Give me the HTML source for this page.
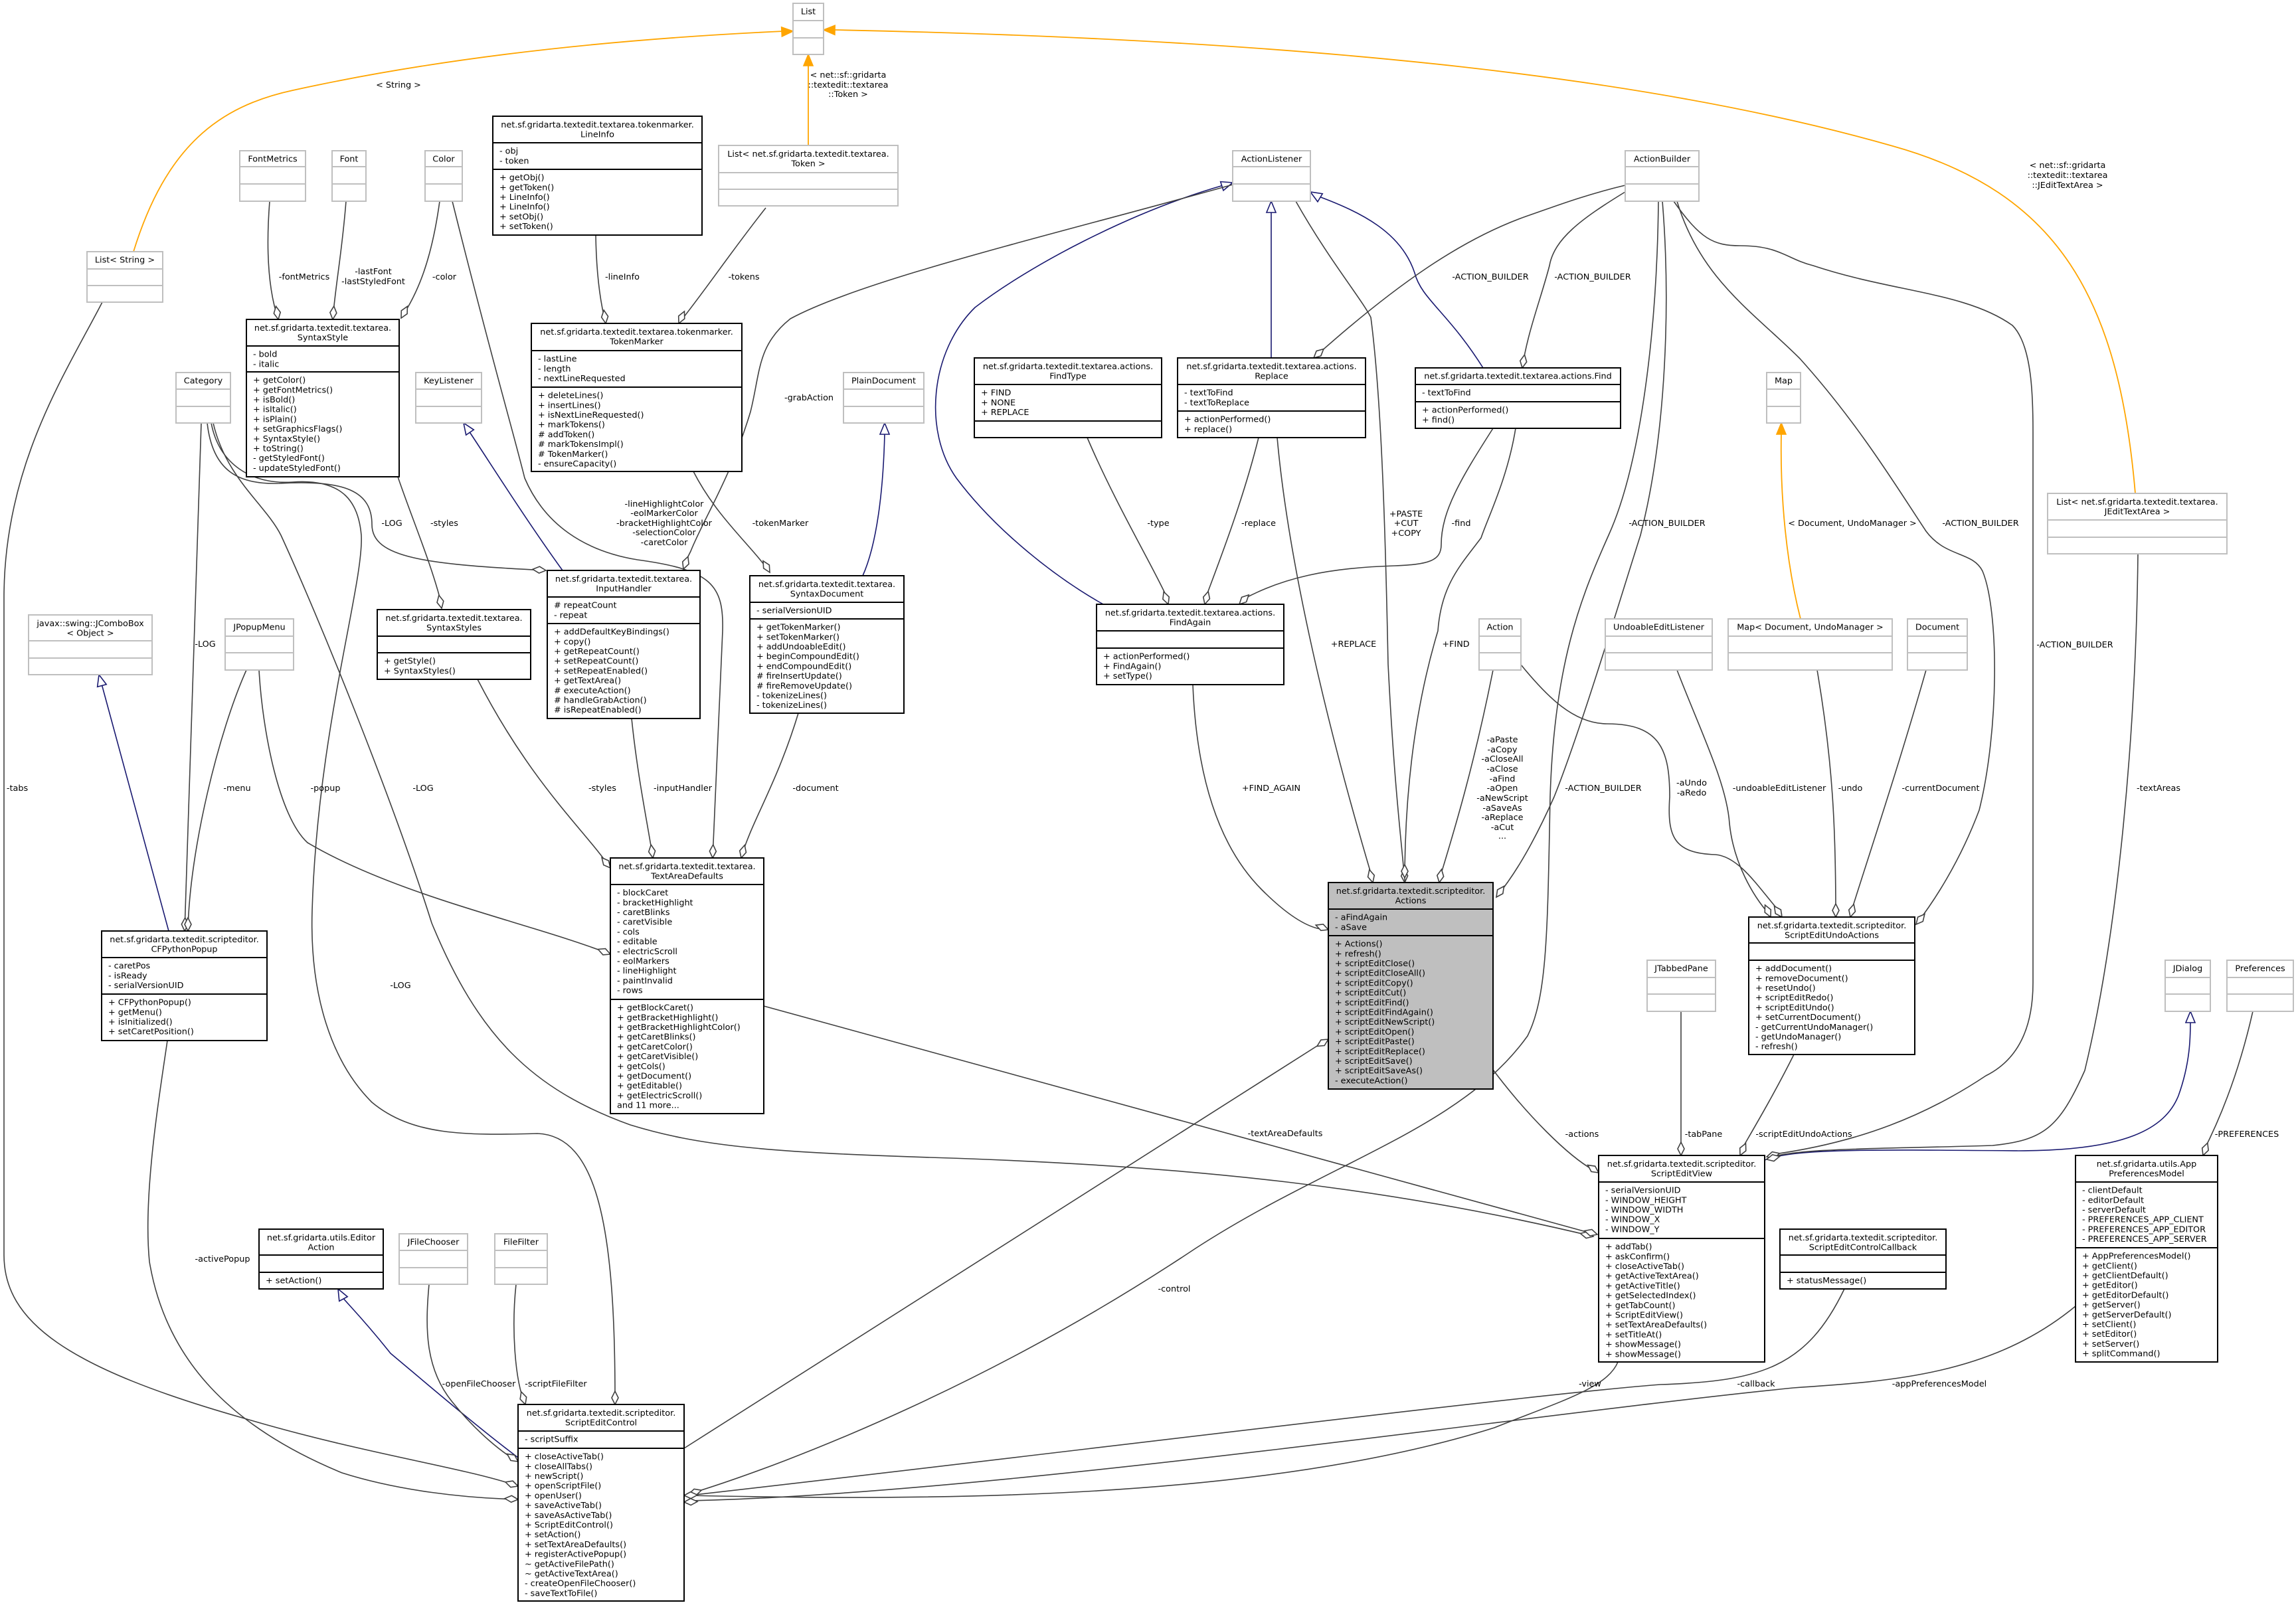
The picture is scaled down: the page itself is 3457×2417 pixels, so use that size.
<!DOCTYPE html>
<html><head><meta charset="utf-8"><style>
html,body{margin:0;padding:0;background:#fff;}
svg{display:block;}
text{font-family:"DejaVu Sans","Liberation Sans",sans-serif;font-size:12.8px;fill:#000;}
.g{fill:#fff;stroke:#bfbfbf;stroke-width:2;}
.b{fill:#fff;stroke:#000;stroke-width:2;}
.gl{stroke:#bfbfbf;stroke-width:2;}
.bl{stroke:#000;stroke-width:2;}
.e{fill:none;stroke:#404040;stroke-width:1.6;}
.u{fill:none;stroke:#191970;stroke-width:1.6;}
.o{fill:none;stroke:#ffa500;stroke-width:1.8;}
.c{text-anchor:middle;}
</style></head><body>
<svg width="3457" height="2417" viewBox="0 0 3457 2417" xmlns="http://www.w3.org/2000/svg">
<defs>
<polygon id="dia" points="0,0 -10,-5 -20,0 -10,5" fill="#fff" stroke="#404040" stroke-width="1.6"/>
<polygon id="tri" points="0,0 -17,-7 -17,7" fill="#fff" stroke="#191970" stroke-width="1.6"/>
<polygon id="otri" points="0,0 -17,-7 -17,7" fill="#ffa500" stroke="#ffa500" stroke-width="1.6"/>
</defs>

<!-- ===== EDGES ===== -->
<!-- orange template edges -->
<path class="o" d="M201,379 C250,220 330,160 441,136 C650,90 900,60 1180,47"/>
<use href="#otri" transform="translate(1194,47) rotate(-3)"/>
<path class="o" d="M1217,219 L1217,96"/>
<use href="#otri" transform="translate(1217,82) rotate(-90)"/>
<path class="o" d="M3215,743 C3190,450 3100,290 2850,220 C2500,120 2000,60 1256,45"/>
<use href="#otri" transform="translate(1240,45) rotate(181)"/>
<path class="o" d="M2711,932 C2690,850 2680,750 2682,652"/>
<use href="#otri" transform="translate(2682,637) rotate(-90)"/>

<!-- blue inheritance -->
<path class="u" d="M847,859 C790,780 740,700 704,646"/>
<use href="#tri" transform="translate(698,637) rotate(-124)"/>
<path class="u" d="M1299,867 C1320,820 1330,740 1332,652"/>
<use href="#tri" transform="translate(1332,637) rotate(-90)"/>
<path class="u" d="M1661,910 C1590,870 1500,800 1440,720 C1390,650 1400,530 1468,463 C1550,400 1700,320 1842,279"/>
<use href="#tri" transform="translate(1856,275) rotate(-18)"/>
<path class="u" d="M1914,539 L1914,318"/>
<use href="#tri" transform="translate(1914,303) rotate(-90)"/>
<path class="u" d="M2233,554 C2180,470 2140,450 2130,411 C2110,350 2050,320 1986,296"/>
<use href="#tri" transform="translate(1973,289) rotate(-149)"/>
<path class="u" d="M254,1402 L153,1030"/>
<use href="#tri" transform="translate(149,1016) rotate(-105)"/>
<path class="u" d="M780,2195 C720,2150 650,2090 588,2038 C550,1990 525,1965 515,1953"/>
<use href="#tri" transform="translate(509,1941) rotate(-118)"/>
<path class="u" d="M2657,1747 C2700,1730 2800,1731 3039,1733 C3200,1733 3260,1700 3280,1650 C3298,1600 3298,1560 3298,1538"/>
<use href="#tri" transform="translate(3298,1523) rotate(-90)"/>

<!-- gray aggregation edges -->
<path class="e" d="M406,303 C400,380 405,440 419,481"/><use href="#dia" transform="translate(419,481) rotate(80)"/>
<path class="e" d="M521,303 C515,380 505,430 501,481"/><use href="#dia" transform="translate(501,481) rotate(95)"/>
<path class="e" d="M662,303 C650,390 630,440 604,479"/><use href="#dia" transform="translate(604,479) rotate(118)"/>
<path class="e" d="M681,303 C740,540 770,640 790,720 C820,790 880,830 960,843 C1070,858 1090,880 1088,950 L1073,1292"/><use href="#dia" transform="translate(1073,1292) rotate(92)"/>
<path class="e" d="M897,354 C898,420 905,460 912,487"/><use href="#dia" transform="translate(912,487) rotate(82)"/>
<path class="e" d="M1153,313 C1100,380 1060,440 1022,487"/><use href="#dia" transform="translate(1022,487) rotate(115)"/>
<path class="e" d="M1044,710 C1080,780 1130,820 1159,862"/><use href="#dia" transform="translate(1159,862) rotate(60)"/>
<!-- Category edges -->
<path class="e" d="M312,637 C320,710 360,730 420,728 C520,722 560,740 560,790 C560,840 640,850 822,859"/><use href="#dia" transform="translate(822,859) rotate(5)"/>
<path class="e" d="M303,637 L278,1402"/><use href="#dia" transform="translate(278,1402) rotate(92)"/>
<path class="e" d="M318,637 C330,700 380,730 440,726 C520,720 540,760 544,806 C548,880 478,1100 470,1371 C466,1500 500,1600 560,1660 C620,1710 700,1710 809,1707 C900,1710 926,1850 926,2105"/><use href="#dia" transform="translate(926,2115) rotate(90)"/>
<path class="e" d="M321,637 C340,720 400,760 423,806 C480,930 590,1200 650,1390 C720,1560 800,1640 949,1694 C1050,1725 1150,1735 1400,1743 C1800,1755 2100,1790 2399,1862"/><use href="#dia" transform="translate(2399,1862) rotate(13)"/>
<path class="e" d="M599,718 C620,780 650,850 665,911"/><use href="#dia" transform="translate(665,916) rotate(78)"/>
<path class="e" d="M719,1023 C800,1180 880,1250 919,1307"/><use href="#dia" transform="translate(919,1307) rotate(50)"/>
<path class="e" d="M951,1082 C960,1170 975,1240 983,1292"/><use href="#dia" transform="translate(983,1292) rotate(82)"/>
<path class="e" d="M1202,1074 C1170,1180 1130,1240 1116,1292"/><use href="#dia" transform="translate(1116,1292) rotate(105)"/>
<path class="e" d="M371,1009 C330,1100 285,1280 283,1402"/><use href="#dia" transform="translate(283,1402) rotate(90)"/>
<path class="e" d="M390,1009 C395,1100 420,1230 463,1269 C600,1350 800,1390 919,1437"/><use href="#dia" transform="translate(919,1437) rotate(22)"/>
<path class="e" d="M154,455 C100,560 6,700 6,900 L6,1890 C6,1990 100,2060 368,2136 C550,2190 700,2210 780,2238"/><use href="#dia" transform="translate(780,2238) rotate(18)"/>
<path class="e" d="M252,1567 C240,1650 215,1800 225,1900 C250,2050 350,2150 515,2218 C600,2245 700,2256 780,2258"/><use href="#dia" transform="translate(780,2258) rotate(4)"/>
<path class="e" d="M646,1934 C640,2000 640,2060 680,2110 C720,2160 760,2190 780,2201"/><use href="#dia" transform="translate(780,2201) rotate(35)"/>
<path class="e" d="M777,1934 C770,2000 775,2080 791,2115"/><use href="#dia" transform="translate(791,2115) rotate(72)"/>
<path class="e" d="M1856,278 C1600,350 1300,420 1190,480 C1140,520 1145,560 1130,620 C1100,720 1060,780 1040,830 L1029,852"/><use href="#dia" transform="translate(1029,857) rotate(110)"/>
<!-- Actions related -->
<path class="e" d="M1951,303 C2000,390 2050,450 2064,478 C2080,600 2086,800 2090,1000 C2100,1200 2112,1280 2115,1329"/><use href="#dia" transform="translate(2115,1329) rotate(88)"/>
<path class="e" d="M2447,279 C2380,295 2330,315 2300,325 C2200,360 2100,430 1978,539"/><use href="#dia" transform="translate(1978,539) rotate(138)"/>
<path class="e" d="M2447,289 C2380,330 2340,360 2333,400 C2320,450 2300,500 2292,554"/><use href="#dia" transform="translate(2292,554) rotate(100)"/>
<path class="e" d="M2503,303 C2515,450 2510,650 2470,806 C2440,900 2380,1100 2340,1200 C2300,1290 2270,1330 2253,1351"/><use href="#dia" transform="translate(2253,1351) rotate(125)"/>
<path class="e" d="M2497,303 C2495,500 2470,700 2422,806 C2380,900 2340,1000 2334,1200 C2330,1400 2330,1500 2300,1560 C2200,1700 2000,1750 1800,1880 C1500,2080 1200,2200 1037,2250"/><use href="#dia" transform="translate(1037,2250) rotate(163)"/>
<path class="e" d="M2525,303 C2560,420 2640,470 2710,540 C2800,640 2860,740 2900,800 C2930,840 2970,830 2985,860 C3010,920 3010,1100 2980,1220 C2950,1300 2910,1360 2885,1392"/><use href="#dia" transform="translate(2885,1392) rotate(130)"/>
<path class="e" d="M2520,303 C2560,360 2580,370 2620,370 C2680,370 2690,390 2730,400 C2850,440 2960,440 3030,490 C3060,520 3061,600 3061,650 L3061,1480 C3061,1560 3030,1600 2990,1620 C2900,1680 2800,1720 2672,1738"/><use href="#dia" transform="translate(2660,1742) rotate(165)"/>
<path class="e" d="M1637,659 C1680,760 1740,860 1759,904"/><use href="#dia" transform="translate(1759,910) rotate(70)"/>
<path class="e" d="M1895,659 C1870,760 1830,860 1814,904"/><use href="#dia" transform="translate(1814,910) rotate(105)"/>
<path class="e" d="M2248,645 C2200,720 2170,770 2170,820 C2170,845 2150,850 2100,852 C2000,855 1930,870 1869,904"/><use href="#dia" transform="translate(1866,910) rotate(135)"/>
<path class="e" d="M1923,659 C1940,850 2000,1100 2067,1325"/><use href="#dia" transform="translate(2067,1329) rotate(75)"/>
<path class="e" d="M2282,645 C2270,720 2240,780 2230,810 C2200,850 2170,880 2165,950 C2120,1100 2115,1250 2115,1329"/><use href="#dia" transform="translate(2115,1322) rotate(90)"/>
<path class="e" d="M1796,1031 C1800,1130 1820,1260 1900,1340 C1950,1390 1980,1400 1998,1400"/><use href="#dia" transform="translate(2000,1400) rotate(20)"/>
<path class="e" d="M2248,1009 C2220,1150 2190,1250 2167,1325"/><use href="#dia" transform="translate(2167,1329) rotate(100)"/>
<path class="e" d="M2290,1001 C2330,1050 2370,1090 2420,1090 C2500,1090 2514,1130 2514,1200 C2510,1260 2520,1285 2583,1287 C2620,1290 2650,1340 2683,1377"/><use href="#dia" transform="translate(2683,1381) rotate(55)"/>
<path class="e" d="M2525,1009 C2560,1100 2600,1180 2604,1240 C2610,1300 2640,1350 2664,1377"/><use href="#dia" transform="translate(2666,1381) rotate(65)"/>
<path class="e" d="M2736,1009 C2760,1150 2764,1250 2764,1377"/><use href="#dia" transform="translate(2764,1381) rotate(90)"/>
<path class="e" d="M2900,1009 C2860,1150 2810,1300 2786,1377"/><use href="#dia" transform="translate(2786,1381) rotate(105)"/>
<path class="e" d="M3219,834 C3216,1100 3190,1400 3139,1612 C3100,1700 3076,1717 3000,1725 C2850,1730 2700,1728 2660,1745"/>
<path class="e" d="M2248,1611 C2300,1680 2360,1740 2399,1762"/><use href="#dia" transform="translate(2407,1766) rotate(35)"/>
<path class="e" d="M2531,1523 L2531,1740"/><use href="#dia" transform="translate(2531,1740) rotate(90)"/>
<path class="e" d="M2701,1588 C2670,1650 2640,1700 2620,1735"/><use href="#dia" transform="translate(2620,1740) rotate(115)"/>
<path class="e" d="M3392,1523 C3370,1620 3340,1690 3317,1735"/><use href="#dia" transform="translate(3317,1740) rotate(110)"/>
<path class="e" d="M1150,1515 L2399,1858"/><use href="#dia" transform="translate(2405,1859) rotate(16)"/>
<path class="e" d="M2436,2051 C2420,2090 2350,2110 2250,2150 C1900,2260 1400,2260 1037,2252"/>
<path class="e" d="M2777,1941 C2720,2060 2650,2080 2500,2085 C2300,2100 1500,2200 1037,2252"/>
<path class="e" d="M3125,1967 C3000,2070 2850,2080 2700,2090 C2300,2130 1500,2250 1037,2260"/>
<use href="#dia" transform="translate(1030,2252) rotate(178)"/>
<use href="#dia" transform="translate(1030,2262) rotate(178)"/>
<path class="e" d="M1030,2181 L1999,1565"/><use href="#dia" transform="translate(2000,1565) rotate(-32)"/>
<use href="#dia" transform="translate(2660,1746) rotate(167)"/>

<!-- ===== EDGE LABELS ===== -->
<g class="c">
<text x="600" y="132">&lt; String &gt;</text>
<text x="1277" y="117">&lt; net::sf::gridarta</text>
<text x="1277" y="132">::textedit::textarea</text>
<text x="1277" y="146">::Token &gt;</text>
<text x="3113" y="253">&lt; net::sf::gridarta</text>
<text x="3113" y="268">::textedit::textarea</text>
<text x="3113" y="283">::JEditTextArea &gt;</text>
<text x="2789" y="792">&lt; Document, UndoManager &gt;</text>
<text x="458" y="421">-fontMetrics</text>
<text x="562" y="413">-lastFont</text>
<text x="562" y="428">-lastStyledFont</text>
<text x="669" y="421">-color</text>
<text x="937" y="421">-lineInfo</text>
<text x="1120" y="421">-tokens</text>
<text x="1000" y="763">-lineHighlightColor</text>
<text x="1000" y="777">-eolMarkerColor</text>
<text x="1000" y="792">-bracketHighlightColor</text>
<text x="1000" y="806">-selectionColor</text>
<text x="1000" y="821">-caretColor</text>
<text x="590" y="792">-LOG</text>
<text x="669" y="792">-styles</text>
<text x="1175" y="792">-tokenMarker</text>
<text x="1218" y="603">-grabAction</text>
<text x="1744" y="792">-type</text>
<text x="1895" y="792">-replace</text>
<text x="2200" y="792">-find</text>
<text x="2117" y="778">+PASTE</text>
<text x="2117" y="792">+CUT</text>
<text x="2117" y="807">+COPY</text>
<text x="2244" y="421">-ACTION_BUILDER</text>
<text x="2398" y="421">-ACTION_BUILDER</text>
<text x="2510" y="792">-ACTION_BUILDER</text>
<text x="2982" y="792">-ACTION_BUILDER</text>
<text x="3124" y="975">-ACTION_BUILDER</text>
<text x="2414" y="1191">-ACTION_BUILDER</text>
<text x="309" y="974">-LOG</text>
<text x="26" y="1191">-tabs</text>
<text x="357" y="1191">-menu</text>
<text x="490" y="1191">-popup</text>
<text x="637" y="1191">-LOG</text>
<text x="907" y="1191">-styles</text>
<text x="1028" y="1191">-inputHandler</text>
<text x="1228" y="1191">-document</text>
<text x="1914" y="1191">+FIND_AGAIN</text>
<text x="2038" y="974">+REPLACE</text>
<text x="2192" y="974">+FIND</text>
<text x="2262" y="1118">-aPaste</text>
<text x="2262" y="1133">-aCopy</text>
<text x="2262" y="1147">-aCloseAll</text>
<text x="2262" y="1162">-aClose</text>
<text x="2262" y="1177">-aFind</text>
<text x="2262" y="1191">-aOpen</text>
<text x="2262" y="1206">-aNewScript</text>
<text x="2262" y="1221">-aSaveAs</text>
<text x="2262" y="1235">-aReplace</text>
<text x="2262" y="1250">-aCut</text>
<text x="2262" y="1263">...</text>
<text x="2547" y="1183">-aUndo</text>
<text x="2547" y="1198">-aRedo</text>
<text x="2679" y="1191">-undoableEditListener</text>
<text x="2786" y="1191">-undo</text>
<text x="2922" y="1191">-currentDocument</text>
<text x="3250" y="1191">-textAreas</text>
<text x="603" y="1488">-LOG</text>
<text x="2382" y="1712">-actions</text>
<text x="2565" y="1712">-tabPane</text>
<text x="2716" y="1712">-scriptEditUndoActions</text>
<text x="3383" y="1712">-PREFERENCES</text>
<text x="1935" y="1711">-textAreaDefaults</text>
<text x="1768" y="1945">-control</text>
<text x="335" y="1900">-activePopup</text>
<text x="721" y="2088">-openFileChooser</text>
<text x="837" y="2088">-scriptFileFilter</text>
<text x="2394" y="2088">-view</text>
<text x="2644" y="2088">-callback</text>
<text x="2920" y="2088">-appPreferencesModel</text>
</g>

<!-- ===== GRAY BOXES ===== -->
<g>
<rect class="g" x="1194" y="5" width="46" height="77"/><line class="gl" x1="1194" y1="31" x2="1240" y2="31"/><line class="gl" x1="1194" y1="57" x2="1240" y2="57"/>
<text class="c" x="1217" y="21.6">List</text>
<rect class="g" x="131" y="379" width="114" height="76"/><line class="gl" x1="131" y1="405" x2="245" y2="405"/><line class="gl" x1="131" y1="430" x2="245" y2="430"/>
<text class="c" x="188" y="395.6">List&lt; String &gt;</text>
<rect class="g" x="361" y="227" width="99" height="76"/><line class="gl" x1="361" y1="251" x2="460" y2="251"/><line class="gl" x1="361" y1="277" x2="460" y2="277"/>
<text class="c" x="410.5" y="243.6">FontMetrics</text>
<rect class="g" x="500" y="227" width="51" height="76"/><line class="gl" x1="500" y1="251" x2="551" y2="251"/><line class="gl" x1="500" y1="277" x2="551" y2="277"/>
<text class="c" x="525.5" y="243.6">Font</text>
<rect class="g" x="640" y="227" width="56" height="76"/><line class="gl" x1="640" y1="251" x2="696" y2="251"/><line class="gl" x1="640" y1="277" x2="696" y2="277"/>
<text class="c" x="668" y="243.6">Color</text>
<rect class="g" x="1856" y="227" width="117" height="76"/><line class="gl" x1="1856" y1="251" x2="1973" y2="251"/><line class="gl" x1="1856" y1="277" x2="1973" y2="277"/>
<text class="c" x="1914.5" y="243.6">ActionListener</text>
<rect class="g" x="2447" y="227" width="111" height="76"/><line class="gl" x1="2447" y1="251" x2="2558" y2="251"/><line class="gl" x1="2447" y1="277" x2="2558" y2="277"/>
<text class="c" x="2502.5" y="243.6">ActionBuilder</text>
<rect class="g" x="1082" y="219" width="270" height="91"/><line class="gl" x1="1082" y1="260" x2="1352" y2="260"/><line class="gl" x1="1082" y1="285" x2="1352" y2="285"/>
<text class="c" x="1217" y="236">List&lt; net.sf.gridarta.textedit.textarea.</text>
<text class="c" x="1217" y="250.6">Token &gt;</text>
<rect class="g" x="265" y="561" width="82" height="76"/><line class="gl" x1="265" y1="586" x2="347" y2="586"/><line class="gl" x1="265" y1="612" x2="347" y2="612"/>
<text class="c" x="306" y="577.6">Category</text>
<rect class="g" x="626" y="561" width="99" height="76"/><line class="gl" x1="626" y1="586" x2="725" y2="586"/><line class="gl" x1="626" y1="612" x2="725" y2="612"/>
<text class="c" x="675.5" y="577.6">KeyListener</text>
<rect class="g" x="1270" y="561" width="121" height="76"/><line class="gl" x1="1270" y1="586" x2="1391" y2="586"/><line class="gl" x1="1270" y1="612" x2="1391" y2="612"/>
<text class="c" x="1330.5" y="577.6">PlainDocument</text>
<rect class="g" x="2660" y="561" width="51" height="76"/><line class="gl" x1="2660" y1="586" x2="2711" y2="586"/><line class="gl" x1="2660" y1="612" x2="2711" y2="612"/>
<text class="c" x="2685.5" y="577.6">Map</text>
<rect class="g" x="3083" y="743" width="270" height="91"/><line class="gl" x1="3083" y1="783" x2="3353" y2="783"/><line class="gl" x1="3083" y1="809" x2="3353" y2="809"/>
<text class="c" x="3218" y="760">List&lt; net.sf.gridarta.textedit.textarea.</text>
<text class="c" x="3218" y="774.6">JEditTextArea &gt;</text>
<rect class="g" x="43" y="926" width="186" height="90"/><line class="gl" x1="43" y1="965" x2="229" y2="965"/><line class="gl" x1="43" y1="991" x2="229" y2="991"/>
<text class="c" x="136" y="943">javax::swing::JComboBox</text>
<text class="c" x="136" y="957.6">&lt; Object &gt;</text>
<rect class="g" x="339" y="932" width="103" height="77"/><line class="gl" x1="339" y1="958" x2="442" y2="958"/><line class="gl" x1="339" y1="983" x2="442" y2="983"/>
<text class="c" x="390.5" y="948.6">JPopupMenu</text>
<rect class="g" x="2227" y="932" width="63" height="77"/><line class="gl" x1="2227" y1="958" x2="2290" y2="958"/><line class="gl" x1="2227" y1="983" x2="2290" y2="983"/>
<text class="c" x="2258.5" y="948.6">Action</text>
<rect class="g" x="2417" y="932" width="161" height="77"/><line class="gl" x1="2417" y1="958" x2="2578" y2="958"/><line class="gl" x1="2417" y1="983" x2="2578" y2="983"/>
<text class="c" x="2497.5" y="948.6">UndoableEditListener</text>
<rect class="g" x="2602" y="932" width="247" height="77"/><line class="gl" x1="2602" y1="958" x2="2849" y2="958"/><line class="gl" x1="2602" y1="983" x2="2849" y2="983"/>
<text class="c" x="2725.5" y="948.6">Map&lt; Document, UndoManager &gt;</text>
<rect class="g" x="2872" y="932" width="90" height="77"/><line class="gl" x1="2872" y1="958" x2="2962" y2="958"/><line class="gl" x1="2872" y1="983" x2="2962" y2="983"/>
<text class="c" x="2917" y="948.6">Document</text>
<rect class="g" x="2480" y="1446" width="103" height="77"/><line class="gl" x1="2480" y1="1472" x2="2583" y2="1472"/><line class="gl" x1="2480" y1="1497" x2="2583" y2="1497"/>
<text class="c" x="2531.5" y="1462.6">JTabbedPane</text>
<rect class="g" x="3260" y="1446" width="68" height="77"/><line class="gl" x1="3260" y1="1472" x2="3328" y2="1472"/><line class="gl" x1="3260" y1="1497" x2="3328" y2="1497"/>
<text class="c" x="3294" y="1462.6">JDialog</text>
<rect class="g" x="3353" y="1446" width="100" height="77"/><line class="gl" x1="3353" y1="1472" x2="3453" y2="1472"/><line class="gl" x1="3353" y1="1497" x2="3453" y2="1497"/>
<text class="c" x="3403" y="1462.6">Preferences</text>
<rect class="g" x="601" y="1858" width="103" height="76"/><line class="gl" x1="601" y1="1883" x2="704" y2="1883"/><line class="gl" x1="601" y1="1909" x2="704" y2="1909"/>
<text class="c" x="652.5" y="1874.6">JFileChooser</text>
<rect class="g" x="745" y="1858" width="79" height="76"/><line class="gl" x1="745" y1="1883" x2="824" y2="1883"/><line class="gl" x1="745" y1="1909" x2="824" y2="1909"/>
<text class="c" x="784.5" y="1874.6">FileFilter</text>
</g>

<!-- ===== BLACK BOXES ===== -->
<!-- LineInfo -->
<rect class="b" x="742" y="175" width="315" height="179"/><line class="bl" x1="742" y1="215" x2="1057" y2="215"/><line class="bl" x1="742" y1="255" x2="1057" y2="255"/>
<text class="c" x="899.5" y="191.9">net.sf.gridarta.textedit.textarea.tokenmarker.</text>
<text class="c" x="899.5" y="206.6">LineInfo</text>
<text x="752" y="231.6">- obj<tspan x="752" dy="14.7">- token</tspan></text>
<text x="752" y="271.6">+ getObj()<tspan x="752" dy="14.7">+ getToken()</tspan><tspan x="752" dy="14.7">+ LineInfo()</tspan><tspan x="752" dy="14.7">+ LineInfo()</tspan><tspan x="752" dy="14.7">+ setObj()</tspan><tspan x="752" dy="14.7">+ setToken()</tspan></text>

<!-- SyntaxStyle -->
<rect class="b" x="371" y="481" width="230" height="237"/><line class="bl" x1="371" y1="521" x2="601" y2="521"/><line class="bl" x1="371" y1="560" x2="601" y2="560"/>
<text class="c" x="486" y="497.9">net.sf.gridarta.textedit.textarea.</text>
<text class="c" x="486" y="512.6">SyntaxStyle</text>
<text x="381" y="537.6">- bold<tspan x="381" dy="14.7">- italic</tspan></text>
<text x="381" y="576.6">+ getColor()<tspan x="381" dy="14.7">+ getFontMetrics()</tspan><tspan x="381" dy="14.7">+ isBold()</tspan><tspan x="381" dy="14.7">+ isItalic()</tspan><tspan x="381" dy="14.7">+ isPlain()</tspan><tspan x="381" dy="14.7">+ setGraphicsFlags()</tspan><tspan x="381" dy="14.7">+ SyntaxStyle()</tspan><tspan x="381" dy="14.7">+ toString()</tspan><tspan x="381" dy="14.7">- getStyledFont()</tspan><tspan x="381" dy="14.7">- updateStyledFont()</tspan></text>

<!-- TokenMarker -->
<rect class="b" x="800" y="487" width="317" height="223"/><line class="bl" x1="800" y1="528" x2="1117" y2="528"/><line class="bl" x1="800" y1="583" x2="1117" y2="583"/>
<text class="c" x="958.5" y="503.9">net.sf.gridarta.textedit.textarea.tokenmarker.</text>
<text class="c" x="958.5" y="518.6">TokenMarker</text>
<text x="810" y="544.6">- lastLine<tspan x="810" dy="14.7">- length</tspan><tspan x="810" dy="14.7">- nextLineRequested</tspan></text>
<text x="810" y="599.6">+ deleteLines()<tspan x="810" dy="14.7">+ insertLines()</tspan><tspan x="810" dy="14.7">+ isNextLineRequested()</tspan><tspan x="810" dy="14.7">+ markTokens()</tspan><tspan x="810" dy="14.7"># addToken()</tspan><tspan x="810" dy="14.7"># markTokensImpl()</tspan><tspan x="810" dy="14.7"># TokenMarker()</tspan><tspan x="810" dy="14.7">- ensureCapacity()</tspan></text>

<!-- FindType -->
<rect class="b" x="1467" y="539" width="282" height="120"/><line class="bl" x1="1467" y1="579" x2="1749" y2="579"/><line class="bl" x1="1467" y1="634" x2="1749" y2="634"/>
<text class="c" x="1608" y="555.9">net.sf.gridarta.textedit.textarea.actions.</text>
<text class="c" x="1608" y="570.6">FindType</text>
<text x="1477" y="595.6">+ FIND<tspan x="1477" dy="14.7">+ NONE</tspan><tspan x="1477" dy="14.7">+ REPLACE</tspan></text>

<!-- Replace -->
<rect class="b" x="1773" y="539" width="283" height="120"/><line class="bl" x1="1773" y1="579" x2="2056" y2="579"/><line class="bl" x1="1773" y1="619" x2="2056" y2="619"/>
<text class="c" x="1914.5" y="555.9">net.sf.gridarta.textedit.textarea.actions.</text>
<text class="c" x="1914.5" y="570.6">Replace</text>
<text x="1783" y="595.6">- textToFind<tspan x="1783" dy="14.7">- textToReplace</tspan></text>
<text x="1783" y="635.6">+ actionPerformed()<tspan x="1783" dy="14.7">+ replace()</tspan></text>

<!-- Find -->
<rect class="b" x="2131" y="554" width="309" height="91"/><line class="bl" x1="2131" y1="579" x2="2440" y2="579"/><line class="bl" x1="2131" y1="605" x2="2440" y2="605"/>
<text class="c" x="2285.5" y="570.6">net.sf.gridarta.textedit.textarea.actions.Find</text>
<text x="2141" y="595.6">- textToFind</text>
<text x="2141" y="621.6">+ actionPerformed()<tspan x="2141" dy="14.7">+ find()</tspan></text>

<!-- InputHandler -->
<rect class="b" x="824" y="859" width="230" height="223"/><line class="bl" x1="824" y1="899" x2="1054" y2="899"/><line class="bl" x1="824" y1="939" x2="1054" y2="939"/>
<text class="c" x="939" y="875.9">net.sf.gridarta.textedit.textarea.</text>
<text class="c" x="939" y="890.6">InputHandler</text>
<text x="834" y="915.6"># repeatCount<tspan x="834" dy="14.7">- repeat</tspan></text>
<text x="834" y="955.6">+ addDefaultKeyBindings()<tspan x="834" dy="14.7">+ copy()</tspan><tspan x="834" dy="14.7">+ getRepeatCount()</tspan><tspan x="834" dy="14.7">+ setRepeatCount()</tspan><tspan x="834" dy="14.7">+ setRepeatEnabled()</tspan><tspan x="834" dy="14.7">+ getTextArea()</tspan><tspan x="834" dy="14.7"># executeAction()</tspan><tspan x="834" dy="14.7"># handleGrabAction()</tspan><tspan x="834" dy="14.7"># isRepeatEnabled()</tspan></text>

<!-- SyntaxStyles -->
<rect class="b" x="568" y="918" width="231" height="105"/><line class="bl" x1="568" y1="958" x2="799" y2="958"/><line class="bl" x1="568" y1="983" x2="799" y2="983"/>
<text class="c" x="683.5" y="934.9">net.sf.gridarta.textedit.textarea.</text>
<text class="c" x="683.5" y="949.6">SyntaxStyles</text>
<text x="578" y="999.6">+ getStyle()<tspan x="578" dy="14.7">+ SyntaxStyles()</tspan></text>

<!-- SyntaxDocument -->
<rect class="b" x="1129" y="867" width="232" height="207"/><line class="bl" x1="1129" y1="907" x2="1361" y2="907"/><line class="bl" x1="1129" y1="932" x2="1361" y2="932"/>
<text class="c" x="1245" y="883.9">net.sf.gridarta.textedit.textarea.</text>
<text class="c" x="1245" y="898.6">SyntaxDocument</text>
<text x="1139" y="923.6">- serialVersionUID</text>
<text x="1139" y="948.6">+ getTokenMarker()<tspan x="1139" dy="14.7">+ setTokenMarker()</tspan><tspan x="1139" dy="14.7">+ addUndoableEdit()</tspan><tspan x="1139" dy="14.7">+ beginCompoundEdit()</tspan><tspan x="1139" dy="14.7">+ endCompoundEdit()</tspan><tspan x="1139" dy="14.7"># fireInsertUpdate()</tspan><tspan x="1139" dy="14.7"># fireRemoveUpdate()</tspan><tspan x="1139" dy="14.7">- tokenizeLines()</tspan><tspan x="1139" dy="14.7">- tokenizeLines()</tspan></text>

<!-- FindAgain -->
<rect class="b" x="1651" y="910" width="282" height="121"/><line class="bl" x1="1651" y1="950" x2="1933" y2="950"/><line class="bl" x1="1651" y1="976" x2="1933" y2="976"/>
<text class="c" x="1792" y="926.9">net.sf.gridarta.textedit.textarea.actions.</text>
<text class="c" x="1792" y="941.6">FindAgain</text>
<text x="1661" y="992.6">+ actionPerformed()<tspan x="1661" dy="14.7">+ FindAgain()</tspan><tspan x="1661" dy="14.7">+ setType()</tspan></text>

<!-- Actions (gray filled) -->
<rect x="2000" y="1329" width="248" height="311" fill="#bfbfbf" stroke="#000" stroke-width="2"/><line class="bl" x1="2000" y1="1369" x2="2248" y2="1369"/><line class="bl" x1="2000" y1="1409" x2="2248" y2="1409"/>
<text class="c" x="2124" y="1345.9">net.sf.gridarta.textedit.scripteditor.</text>
<text class="c" x="2124" y="1360.6">Actions</text>
<text x="2010" y="1385.6">- aFindAgain<tspan x="2010" dy="14.7">- aSave</tspan></text>
<text x="2010" y="1425.6">+ Actions()<tspan x="2010" dy="14.7">+ refresh()</tspan><tspan x="2010" dy="14.7">+ scriptEditClose()</tspan><tspan x="2010" dy="14.7">+ scriptEditCloseAll()</tspan><tspan x="2010" dy="14.7">+ scriptEditCopy()</tspan><tspan x="2010" dy="14.7">+ scriptEditCut()</tspan><tspan x="2010" dy="14.7">+ scriptEditFind()</tspan><tspan x="2010" dy="14.7">+ scriptEditFindAgain()</tspan><tspan x="2010" dy="14.7">+ scriptEditNewScript()</tspan><tspan x="2010" dy="14.7">+ scriptEditOpen()</tspan><tspan x="2010" dy="14.7">+ scriptEditPaste()</tspan><tspan x="2010" dy="14.7">+ scriptEditReplace()</tspan><tspan x="2010" dy="14.7">+ scriptEditSave()</tspan><tspan x="2010" dy="14.7">+ scriptEditSaveAs()</tspan><tspan x="2010" dy="14.7">- executeAction()</tspan></text>

<!-- ScriptEditUndoActions -->
<rect class="b" x="2633" y="1381" width="250" height="207"/><line class="bl" x1="2633" y1="1420" x2="2883" y2="1420"/><line class="bl" x1="2633" y1="1446" x2="2883" y2="1446"/>
<text class="c" x="2758" y="1397.9">net.sf.gridarta.textedit.scripteditor.</text>
<text class="c" x="2758" y="1412.6">ScriptEditUndoActions</text>
<text x="2643" y="1462.6">+ addDocument()<tspan x="2643" dy="14.7">+ removeDocument()</tspan><tspan x="2643" dy="14.7">+ resetUndo()</tspan><tspan x="2643" dy="14.7">+ scriptEditRedo()</tspan><tspan x="2643" dy="14.7">+ scriptEditUndo()</tspan><tspan x="2643" dy="14.7">+ setCurrentDocument()</tspan><tspan x="2643" dy="14.7">- getCurrentUndoManager()</tspan><tspan x="2643" dy="14.7">- getUndoManager()</tspan><tspan x="2643" dy="14.7">- refresh()</tspan></text>

<!-- CFPythonPopup -->
<rect class="b" x="153" y="1402" width="249" height="165"/><line class="bl" x1="153" y1="1442" x2="402" y2="1442"/><line class="bl" x1="153" y1="1497" x2="402" y2="1497"/>
<text class="c" x="277.5" y="1418.9">net.sf.gridarta.textedit.scripteditor.</text>
<text class="c" x="277.5" y="1433.6">CFPythonPopup</text>
<text x="163" y="1458.6">- caretPos<tspan x="163" dy="14.7">- isReady</tspan><tspan x="163" dy="14.7">- serialVersionUID</tspan></text>
<text x="163" y="1513.6">+ CFPythonPopup()<tspan x="163" dy="14.7">+ getMenu()</tspan><tspan x="163" dy="14.7">+ isInitialized()</tspan><tspan x="163" dy="14.7">+ setCaretPosition()</tspan></text>

<!-- TextAreaDefaults -->
<rect class="b" x="919" y="1292" width="231" height="385"/><line class="bl" x1="919" y1="1332" x2="1150" y2="1332"/><line class="bl" x1="919" y1="1505" x2="1150" y2="1505"/>
<text class="c" x="1034.5" y="1308.9">net.sf.gridarta.textedit.textarea.</text>
<text class="c" x="1034.5" y="1323.6">TextAreaDefaults</text>
<text x="929" y="1348.6">- blockCaret<tspan x="929" dy="14.7">- bracketHighlight</tspan><tspan x="929" dy="14.7">- caretBlinks</tspan><tspan x="929" dy="14.7">- caretVisible</tspan><tspan x="929" dy="14.7">- cols</tspan><tspan x="929" dy="14.7">- editable</tspan><tspan x="929" dy="14.7">- electricScroll</tspan><tspan x="929" dy="14.7">- eolMarkers</tspan><tspan x="929" dy="14.7">- lineHighlight</tspan><tspan x="929" dy="14.7">- paintInvalid</tspan><tspan x="929" dy="14.7">- rows</tspan></text>
<text x="929" y="1521.6">+ getBlockCaret()<tspan x="929" dy="14.7">+ getBracketHighlight()</tspan><tspan x="929" dy="14.7">+ getBracketHighlightColor()</tspan><tspan x="929" dy="14.7">+ getCaretBlinks()</tspan><tspan x="929" dy="14.7">+ getCaretColor()</tspan><tspan x="929" dy="14.7">+ getCaretVisible()</tspan><tspan x="929" dy="14.7">+ getCols()</tspan><tspan x="929" dy="14.7">+ getDocument()</tspan><tspan x="929" dy="14.7">+ getEditable()</tspan><tspan x="929" dy="14.7">+ getElectricScroll()</tspan><tspan x="929" dy="14.7">and 11 more...</tspan></text>

<!-- EditorAction -->
<rect class="b" x="390" y="1851" width="187" height="90"/><line class="bl" x1="390" y1="1890" x2="577" y2="1890"/><line class="bl" x1="390" y1="1916" x2="577" y2="1916"/>
<text class="c" x="483.5" y="1867.9">net.sf.gridarta.utils.Editor</text>
<text class="c" x="483.5" y="1882.6">Action</text>
<text x="400" y="1932.6">+ setAction()</text>

<!-- ScriptEditControl -->
<rect class="b" x="780" y="2115" width="250" height="296"/><line class="bl" x1="780" y1="2155" x2="1030" y2="2155"/><line class="bl" x1="780" y1="2181" x2="1030" y2="2181"/>
<text class="c" x="905" y="2131.9">net.sf.gridarta.textedit.scripteditor.</text>
<text class="c" x="905" y="2146.6">ScriptEditControl</text>
<text x="790" y="2171.6">- scriptSuffix</text>
<text x="790" y="2197.6">+ closeActiveTab()<tspan x="790" dy="14.7">+ closeAllTabs()</tspan><tspan x="790" dy="14.7">+ newScript()</tspan><tspan x="790" dy="14.7">+ openScriptFile()</tspan><tspan x="790" dy="14.7">+ openUser()</tspan><tspan x="790" dy="14.7">+ saveActiveTab()</tspan><tspan x="790" dy="14.7">+ saveAsActiveTab()</tspan><tspan x="790" dy="14.7">+ ScriptEditControl()</tspan><tspan x="790" dy="14.7">+ setAction()</tspan><tspan x="790" dy="14.7">+ setTextAreaDefaults()</tspan><tspan x="790" dy="14.7">+ registerActivePopup()</tspan><tspan x="790" dy="14.7">~ getActiveFilePath()</tspan><tspan x="790" dy="14.7">~ getActiveTextArea()</tspan><tspan x="790" dy="14.7">- createOpenFileChooser()</tspan><tspan x="790" dy="14.7">- saveTextToFile()</tspan></text>

<!-- ScriptEditView -->
<rect class="b" x="2407" y="1740" width="250" height="311"/><line class="bl" x1="2407" y1="1780" x2="2657" y2="1780"/><line class="bl" x1="2407" y1="1865" x2="2657" y2="1865"/>
<text class="c" x="2532" y="1756.9">net.sf.gridarta.textedit.scripteditor.</text>
<text class="c" x="2532" y="1771.6">ScriptEditView</text>
<text x="2417" y="1796.6">- serialVersionUID<tspan x="2417" dy="14.7">- WINDOW_HEIGHT</tspan><tspan x="2417" dy="14.7">- WINDOW_WIDTH</tspan><tspan x="2417" dy="14.7">- WINDOW_X</tspan><tspan x="2417" dy="14.7">- WINDOW_Y</tspan></text>
<text x="2417" y="1881.6">+ addTab()<tspan x="2417" dy="14.7">+ askConfirm()</tspan><tspan x="2417" dy="14.7">+ closeActiveTab()</tspan><tspan x="2417" dy="14.7">+ getActiveTextArea()</tspan><tspan x="2417" dy="14.7">+ getActiveTitle()</tspan><tspan x="2417" dy="14.7">+ getSelectedIndex()</tspan><tspan x="2417" dy="14.7">+ getTabCount()</tspan><tspan x="2417" dy="14.7">+ ScriptEditView()</tspan><tspan x="2417" dy="14.7">+ setTextAreaDefaults()</tspan><tspan x="2417" dy="14.7">+ setTitleAt()</tspan><tspan x="2417" dy="14.7">+ showMessage()</tspan><tspan x="2417" dy="14.7">+ showMessage()</tspan></text>

<!-- ScriptEditControlCallback -->
<rect class="b" x="2680" y="1851" width="250" height="90"/><line class="bl" x1="2680" y1="1890" x2="2930" y2="1890"/><line class="bl" x1="2680" y1="1916" x2="2930" y2="1916"/>
<text class="c" x="2805" y="1867.9">net.sf.gridarta.textedit.scripteditor.</text>
<text class="c" x="2805" y="1882.6">ScriptEditControlCallback</text>
<text x="2690" y="1932.6">+ statusMessage()</text>

<!-- AppPreferencesModel -->
<rect class="b" x="3125" y="1740" width="214" height="311"/><line class="bl" x1="3125" y1="1780" x2="3339" y2="1780"/><line class="bl" x1="3125" y1="1879" x2="3339" y2="1879"/>
<text class="c" x="3232" y="1756.9">net.sf.gridarta.utils.App</text>
<text class="c" x="3232" y="1771.6">PreferencesModel</text>
<text x="3135" y="1796.6">- clientDefault<tspan x="3135" dy="14.7">- editorDefault</tspan><tspan x="3135" dy="14.7">- serverDefault</tspan><tspan x="3135" dy="14.7">- PREFERENCES_APP_CLIENT</tspan><tspan x="3135" dy="14.7">- PREFERENCES_APP_EDITOR</tspan><tspan x="3135" dy="14.7">- PREFERENCES_APP_SERVER</tspan></text>
<text x="3135" y="1895.6">+ AppPreferencesModel()<tspan x="3135" dy="14.7">+ getClient()</tspan><tspan x="3135" dy="14.7">+ getClientDefault()</tspan><tspan x="3135" dy="14.7">+ getEditor()</tspan><tspan x="3135" dy="14.7">+ getEditorDefault()</tspan><tspan x="3135" dy="14.7">+ getServer()</tspan><tspan x="3135" dy="14.7">+ getServerDefault()</tspan><tspan x="3135" dy="14.7">+ setClient()</tspan><tspan x="3135" dy="14.7">+ setEditor()</tspan><tspan x="3135" dy="14.7">+ setServer()</tspan><tspan x="3135" dy="14.7">+ splitCommand()</tspan></text>
</svg>
</body></html>
